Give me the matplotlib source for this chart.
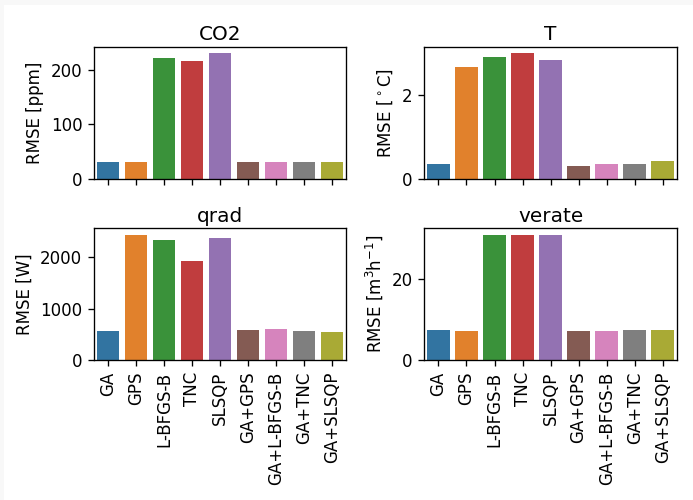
import matplotlib
matplotlib.use('Agg')
import matplotlib.pyplot as plt
import seaborn as sns
from matplotlib.patches import Rectangle

# Data
methods = ['GA', 'GPS', 'L-BFGS-B', 'TNC', 'SLSQP',
           'GA+GPS', 'GA+L-BFGS-B', 'GA+TNC', 'GA+SLSQP']
rmse_co2 = [31, 31, 222, 216, 231, 31, 31, 31, 31]
rmse_t = [0.36, 2.67, 2.92, 3.01, 2.84, 0.29, 0.36, 0.36, 0.43]
rmse_qrad = [561, 2437, 2340, 1935, 2379, 580, 600, 561, 542]
rmse_verate = [7.35, 7.1, 30.9, 30.9, 30.9, 7.1, 7.1, 7.35, 7.35]

titles = ['CO2', 'T', 'qrad', 'verate']
ylabels = ['RMSE [ppm]', 'RMSE [$^\\circ$C]', 'RMSE [W]', 'RMSE [m$^3$h$^{-1}$]']
series = [rmse_co2, rmse_t, rmse_qrad, rmse_verate]


def main():
    colors = [sns.desaturate(c, 0.75) for c in sns.color_palette('tab10', 9)]

    dpi = 120
    fig, axes = plt.subplots(2, 2, figsize=(693 / dpi, 500 / dpi), dpi=dpi, sharex=True)
    fig.subplots_adjust(left=0.1356, right=0.9765, top=0.906, bottom=0.28,
                        wspace=0.31, hspace=0.38)

    # faint frame along the top and left edge
    fig.patches.append(Rectangle((0, 0.99), 1, 0.01, transform=fig.transFigure,
                                 facecolor='#f8f8f8', edgecolor='none', zorder=-1))
    fig.patches.append(Rectangle((0, 0), 0.0058, 1, transform=fig.transFigure,
                                 facecolor='#f8f8f8', edgecolor='none', zorder=-1))

    x = list(range(len(methods)))
    for ax, vals, title, ylab in zip(axes.flat, series, titles, ylabels):
        ax.bar(x, vals, width=0.8, color=colors)
        ax.set_title(title, pad=4)
        ax.set_ylabel(ylab)
        ax.set_xlim(-0.5, len(methods) - 0.5)

    for ax in axes[1]:
        ax.set_xticks(x)
        ax.set_xticklabels(methods, rotation=90)

    fig.savefig('out.png', dpi=dpi)


if __name__ == '__main__':
    main()
